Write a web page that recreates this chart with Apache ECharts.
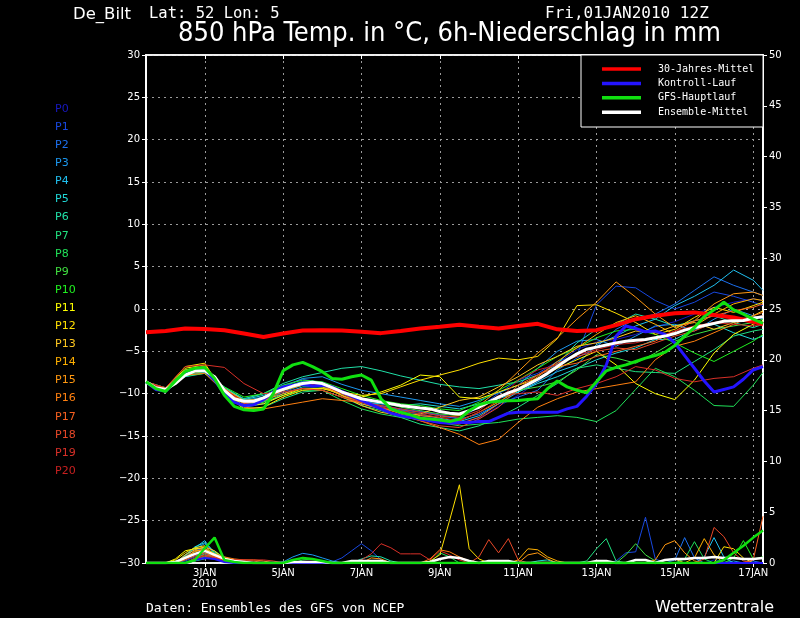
<!DOCTYPE html>
<html><head><meta charset="utf-8">
<script src="https://cdn.jsdelivr.net/npm/echarts@6/dist/echarts.min.js"></script>
<style>html,body{margin:0;padding:0;background:#000;}#c{width:800px;height:618px;}</style>
</head><body><div id="c"></div>
<script>
const FONT_N = "'Liberation Sans Narrow','DejaVu Sans Condensed','DejaVu Sans',sans-serif";
const FONT = "'DejaVu Sans',sans-serif";
const FONT_M = "'DejaVu Sans Mono',monospace";

// time categories: 6-hourly from 01JAN2010 12Z
const categories = [];
for (let i = 0; i < 64; i++) {
  const h = 12 + 6 * i, d = 1 + Math.floor(h / 24), hh = h % 24;
  categories.push(String(d).padStart(2, '0') + 'JAN ' + String(hh).padStart(2, '0') + 'Z');
}
const tickCats = ['03JAN 00Z','05JAN 00Z','07JAN 00Z','09JAN 00Z','11JAN 00Z','13JAN 00Z','15JAN 00Z','17JAN 00Z'];
const tickLabels = ['3JAN\n2010','5JAN','7JAN','9JAN','11JAN','13JAN','15JAN','17JAN'];
// 12-hourly reading positions (category index)
const idx12 = [0,2,4,6,8,10,12,14,16,18,20,22,24,26,28,30,32,34,36,38,40,42,44,46,48,50,52,54,56,58,60,62,63];

const memberNames = ['P0','P1','P2','P3','P4','P5','P6','P7','P8','P9','P10','P11','P12','P13','P14','P15','P16','P17','P18','P19','P20'];
const memberColors = ['#1818c0','#1848e0','#1c70f0','#1c98f0','#20c0f0','#20d8d8','#20e0a8','#20e080','#20e058','#40e040','#20f020','#ffff00','#ffe000','#ffc820','#ffb000','#ff9810','#ff8010','#f86020','#e84828','#d83028','#c82020'];

// 850 hPa temperature of ensemble members (12-hourly)
const tP0 = [-8.6,-9.6,-7.4,-7.0,-9.9,-11.4,-10.8,-9.4,-8.5,-8.6,-9.6,-10.5,-11.2,-11.9,-12.6,-13.0,-13.4,-12.9,-11.5,-10.2,-8.6,-6.4,-4.8,-3.9,-3.6,-3.0,-2.1,-1.5,-0.6,0.2,0.8,1.2,1.0];
const tP1 = [-8.6,-9.4,-7.3,-7.2,-9.4,-10.6,-10.0,-9.0,-8.3,-8.7,-9.9,-10.9,-11.5,-11.8,-12.1,-12.5,-12.9,-11.6,-10.0,-8.4,-7.6,-6.2,-5.5,0.5,2.7,2.5,1.0,0.0,0.8,2.0,1.5,0.8,0.4];
const tP2 = [-8.6,-9.5,-7.6,-7.1,-9.5,-11.1,-10.9,-9.8,-9.0,-9.0,-9.9,-10.8,-11.4,-11.9,-12.2,-12.6,-13.0,-12.4,-11.2,-10.4,-9.6,-7.2,-5.8,-4.5,-2.4,-1.2,-0.6,0.6,2.2,3.8,2.8,2.0,1.6];
const tP3 = [-8.6,-9.3,-7.8,-7.5,-9.2,-10.8,-10.4,-9.2,-8.2,-8.0,-8.9,-9.6,-10.0,-10.4,-10.8,-11.2,-11.5,-10.8,-9.9,-9.0,-7.0,-5.0,-3.8,-3.6,-4.4,-3.2,-2.0,-1.8,-2.6,-1.2,0.0,-0.8,-1.2];
const tP4 = [-8.6,-9.7,-7.5,-7.0,-9.7,-11.6,-11.2,-10.0,-9.2,-9.2,-10.2,-11.2,-11.8,-12.0,-12.4,-12.9,-13.3,-12.6,-11.2,-9.8,-8.6,-7.4,-6.6,-4.2,-3.2,-2.0,-1.2,0.4,1.5,2.8,4.6,3.4,2.2];
const tP5 = [-8.6,-9.5,-8.0,-7.6,-9.4,-10.7,-10.2,-9.2,-8.6,-8.9,-10.0,-11.0,-11.2,-11.4,-11.2,-11.5,-11.8,-11.2,-10.6,-9.8,-8.8,-8.0,-7.0,-6.0,-5.2,-4.6,-3.6,-3.6,-2.4,-1.8,-2.8,-3.6,-3.2];
const tP6 = [-8.6,-9.6,-7.8,-7.3,-9.3,-10.6,-10.0,-8.8,-8.0,-7.5,-7.0,-6.8,-7.3,-7.9,-8.4,-8.9,-9.2,-9.4,-9.0,-8.6,-7.8,-6.5,-4.0,-2.4,-1.8,-0.6,-1.2,-2.0,-1.4,-0.8,-1.6,-2.2,-1.8];
const tP7 = [-8.6,-9.4,-7.2,-6.8,-9.8,-11.8,-11.6,-10.6,-9.8,-9.6,-10.4,-11.4,-12.0,-12.8,-13.6,-14.0,-14.4,-13.8,-12.8,-11.6,-10.2,-8.8,-7.0,-6.6,-7.0,-7.4,-7.5,-7.6,-6.2,-4.8,-3.2,-2.6,-2.4];
const tP8 = [-8.6,-9.8,-7.6,-7.0,-9.6,-11.2,-11.0,-10.2,-9.6,-9.6,-10.8,-11.8,-12.4,-12.8,-13.0,-13.4,-13.8,-13.6,-13.4,-13.0,-12.8,-12.6,-12.8,-13.3,-12.0,-9.5,-7.0,-8.0,-9.6,-11.4,-11.5,-9.0,-7.5];
const tP9 = [-8.6,-9.5,-7.7,-7.4,-9.9,-11.4,-11.0,-9.6,-9.0,-9.2,-10.0,-10.6,-11.0,-11.6,-12.0,-12.4,-12.6,-11.6,-10.4,-9.6,-9.2,-8.6,-7.2,-5.4,-5.8,-6.4,-5.2,-3.8,-3.0,-2.4,-2.0,-1.6,-1.2];
const tP10 = [-8.6,-9.3,-7.9,-7.6,-9.2,-10.4,-10.0,-9.0,-8.4,-8.6,-9.4,-10.2,-10.8,-11.2,-11.4,-11.8,-12.0,-11.0,-9.6,-8.4,-7.0,-5.6,-4.6,-3.4,-2.6,-2.4,-3.0,-4.0,-5.2,-6.2,-5.0,-3.8,-3.0];
const tP11 = [-8.6,-9.6,-7.0,-6.6,-9.8,-11.4,-11.2,-10.2,-9.4,-9.4,-10.0,-10.4,-9.8,-9.0,-7.8,-8.0,-10.4,-10.6,-9.8,-9.0,-8.2,-7.0,-6.0,-5.0,-6.6,-8.8,-10.0,-10.7,-8.4,-5.2,-3.0,-1.8,-1.4];
const tP12 = [-8.6,-9.4,-6.8,-6.4,-10.0,-11.8,-11.6,-10.4,-9.6,-9.4,-9.8,-10.2,-10.0,-9.2,-8.4,-7.8,-7.2,-6.4,-5.8,-6.0,-5.6,-3.5,0.4,0.5,-0.5,-1.6,-3.0,-2.4,-1.0,0.2,-0.4,0.4,0.8];
const tP13 = [-8.6,-9.6,-7.2,-6.8,-9.6,-11.2,-10.8,-9.4,-8.8,-9.0,-10.2,-11.4,-12.2,-12.6,-12.4,-11.6,-10.8,-10.4,-9.2,-8.0,-6.6,-5.6,-4.4,-4.0,-3.4,-2.6,-2.8,-2.0,-1.6,-2.4,-1.6,-0.8,-0.2];
const tP14 = [-8.6,-9.5,-7.4,-7.0,-9.4,-10.8,-10.6,-9.6,-9.0,-9.2,-10.2,-11.0,-11.6,-12.2,-12.8,-13.2,-13.2,-12.2,-11.0,-9.6,-8.0,-6.2,-4.6,-3.0,-1.6,-0.8,-1.8,-3.0,-2.0,-0.6,0.6,1.2,1.0];
const tP15 = [-8.6,-9.6,-7.5,-7.2,-9.6,-11.0,-10.8,-10.0,-9.4,-9.6,-10.4,-11.2,-11.8,-12.2,-12.6,-12.8,-12.6,-11.4,-9.6,-7.4,-5.2,-3.4,-1.2,0.8,3.2,1.4,-0.6,-2.2,-1.4,0.6,1.8,2.0,1.6];
const tP16 = [-8.6,-9.4,-7.8,-7.6,-9.8,-11.6,-11.8,-11.4,-11.0,-10.6,-10.8,-11.0,-11.6,-12.4,-13.2,-14.0,-14.8,-16.0,-15.4,-13.4,-11.6,-10.6,-9.8,-9.4,-9.0,-8.6,-6.0,-4.4,-3.8,-2.8,-1.8,-0.8,-0.4];
const tP17 = [-8.6,-9.5,-7.3,-6.9,-9.4,-11.0,-10.6,-9.4,-8.7,-8.8,-9.8,-10.8,-11.6,-12.2,-12.8,-13.4,-13.6,-12.8,-11.2,-9.0,-7.8,-6.8,-6.4,-5.6,-5.0,-4.4,-3.8,-2.6,-1.4,-0.8,-0.2,0.2,0.6];
const tP18 = [-8.6,-9.6,-7.6,-7.3,-9.6,-11.2,-10.8,-9.6,-8.8,-8.9,-10.0,-11.0,-11.8,-12.6,-13.2,-13.8,-14.0,-13.0,-11.6,-9.4,-7.8,-6.4,-5.6,-5.0,-4.6,-4.8,-4.0,-3.2,-2.6,-1.6,-1.2,-1.0,-0.8];
const tP19 = [-8.6,-9.3,-6.8,-6.6,-6.9,-8.8,-10.0,-9.8,-9.4,-9.6,-10.4,-11.0,-11.4,-11.8,-12.2,-12.6,-12.8,-12.0,-10.2,-10.0,-9.8,-10.2,-9.4,-8.8,-8.0,-6.8,-7.2,-8.2,-8.6,-8.2,-8.0,-7.0,-6.6];
const tP20 = [-8.6,-9.5,-7.5,-7.1,-9.5,-11.0,-10.6,-9.5,-8.8,-9.0,-10.0,-10.9,-11.6,-12.0,-12.4,-12.8,-13.2,-12.2,-10.8,-8.4,-7.2,-6.6,-5.4,-4.8,-4.2,-4.0,-3.4,-2.6,-2.0,-1.6,-1.8,-2.0,-1.8];

// 6h precipitation of ensemble members (6-hourly, mm)
const rP0 = [0,0,0,0,.3,.8,1,.6, .2,0,0,0,0,0,0,0, 0,0,0,0,0,0,0,0, 0,0,0,0,0,0,0,0, 0,0,0,0,0,0,0,0, 0,0,0,0,0,0,0,0, 0,0,0,0,0,0,0,0, 0,0,.3,.2,0,0,0,0];
const rP1 = [0,0,0,0,.2,.6,.9,.5, .3,.1,0,0,0,0,0,0, 0,0,0,.1,.5,1.2,1.9,1.2, .3,0,0,0,0,0,0,0, 0,0,0,0,0,0,0,0, 0,0,0,0,0,0,0,0, .2,1,1.1,4.5,.4,0,0,0, 0,0,0,0,0,0,0,0];
const rP2 = [0,0,0,0,.5,1.2,1.5,.8, .3,0,0,0,0,0,0,0, 0,0,0,0,0,0,0,0, 0,0,0,0,0,0,0,0, 0,0,0,0,0,0,0,0, 0,0,0,0,0,0,0,0, 0,0,0,0,0,0,.3,2.5, .5,0,0,0,0,0,.2,0];
const rP3 = [0,0,0,0,.6,1.4,1.9,1, .4,.3,.2,0,0,0,.1,.6, .95,.8,.5,.2,0,0,0,0, 0,0,0,0,0,0,0,0, 0,0,0,0,0,0,0,0, 0,0,0,0,0,0,0,0, 0,0,0,0,0,0,0,0, 0,0,0,0,.2,0,0,0];
const rP4 = [0,0,0,0,.8,1.5,2.2,.9, .4,0,0,0,0,0,0,0, 0,0,0,0,0,0,0,0, 0,0,0,0,0,0,0,0, 0,0,0,0,0,0,0,0, 0,0,0,0,0,0,0,0, 0,0,0,0,0,0,0,0, 0,.6,2.5,.6,0,0,0,0];
const rP5 = [0,0,0,0,.7,1.6,2,1.1, .5,.2,0,0,0,0,0,0, 0,0,0,0,0,0,0,0, 0,0,0,0,0,0,0,0, 0,0,0,0,0,0,0,0, .2,.3,0,0,0,0,0,0, 0,0,0,0,0,0,0,0, 0,0,0,0,0,0,0,0];
const rP6 = [0,0,0,0,0,.3,.6,.9, .4,.2,0,0,0,0,0,0, 0,0,0,0,0,0,.4,.7, .6,.2,0,0,0,0,0,0, 0,0,0,0,0,0,0,0, 0,0,0,0,0,0,0,0, 0,0,0,0,0,0,0,0, 0,0,0,0,0,0,0,0];
const rP7 = [0,0,0,0,0,.2,.4,.8, .3,0,0,0,0,0,0,0, 0,0,0,0,0,0,0,0, 0,0,0,0,0,0,0,0, 0,0,0,0,0,0,0,0, 0,0,0,0,0,.2,1.4,2.4, .2,0,0,0,0,0,0,0, 0,0,0,0,0,0,0,0];
const rP8 = [0,0,0,0,0,.4,.9,1.2, .5,0,0,0,0,0,0,0, .3,.4,.2,0,0,0,0,0, 0,0,0,0,0,0,1,.6, 0,0,0,0,0,0,0,0, 0,0,0,0,0,0,0,0, 0,0,0,0,0,0,0,.4, 2.1,.4,0,0,0,0,0,0];
const rP9 = [0,0,0,0,0,.3,.7,1, .6,.2,0,0,0,0,0,0, 0,0,0,0,0,0,0,0, 0,0,0,0,0,0,0,0, 0,0,0,0,0,0,0,0, 0,0,0,0,0,0,0,0, 0,.8,1.9,.8,.2,0,0,0, 0,0,0,0,0,0,0,0];
const rP10 = [0,0,0,0,0,.2,.5,.7, .3,0,0,0,0,0,0,0, 0,0,0,0,0,0,0,0, 0,0,0,0,0,0,0,0, 0,0,0,0,0,0,0,0, 0,0,0,0,0,0,0,0, 0,0,0,0,0,0,0,0, 0,0,0,0,.5,2.2,.4,.6];
const rP11 = [0,0,0,.4,1.2,1.4,1.5,.6, .2,0,0,0,0,0,0,0, 0,0,0,0,0,0,0,0, 0,0,0,0,0,0,0,0, 0,0,0,0,0,0,0,0, 0,0,0,0,0,0,0,0, 0,0,0,0,0,0,0,0, 0,0,0,0,0,0,0,0];
const rP12 = [0,0,0,.3,1,1.5,1.7,.8, .3,0,0,0,0,0,0,0, 0,0,0,0,0,0,0,0, 0,0,0,0,0,.2,.8,4.2, 7.7,1.4,.4,0,0,0,0,0, 0,0,0,0,0,0,0,0, 0,0,0,0,0,0,0,0, 0,0,0,1.6,1.4,.5,0,0];
const rP13 = [0,0,0,0,.8,1.3,1.6,1.2, .4,0,0,0,0,0,0,0, 0,0,0,0,0,0,0,0, 0,0,0,0,0,0,0,0, 0,0,0,0,0,0,0,0, 0,0,0,0,0,0,0,0, 0,0,0,0,0,.3,.4,0, 0,0,0,0,0,0,0,0];
const rP14 = [0,0,0,0,.6,1.1,1.4,.9, .5,.3,0,0,0,0,0,0, 0,0,0,0,0,0,0,0, 0,0,0,0,0,0,0,0, 0,0,0,0,0,0,.3,1.4, 1.3,.6,.2,0,0,0,0,0, 0,0,0,0,0,0,0,0, .5,2.4,.8,0,0,0,0,0];
const rP15 = [0,0,0,0,.5,1.2,1.3,.7, .2,0,0,0,0,0,0,0, 0,0,0,0,0,0,0,.5, .4,0,0,0,0,0,0,0, 0,0,0,0,0,0,0,.8, 1,.4,0,0,0,0,0,0, 0,0,0,0,.3,1.8,2.2,1, .2,0,0,0,0,0,0,0];
const rP16 = [0,0,0,0,.4,.9,1.2,.9, .6,.4,.3,.3,.2,0,0,0, 0,0,0,0,0,0,0,0, 0,0,0,0,0,.4,1.3,1.1, .6,.2,0,0,0,0,0,0, 0,0,0,0,0,0,0,0, 0,0,0,0,0,0,0,0, 0,0,0,0,0,0,0,0];
const rP17 = [0,0,0,0,.3,.7,1,.6, .4,.3,0,0,0,0,0,0, 0,0,0,0,0,0,0,0, 0,0,0,0,0,0,0,0, 0,0,0,0,0,0,0,0, 0,0,0,0,0,0,0,0, 0,0,0,0,0,0,0,0, 0,0,0,0,0,0,.3,4.6];
const rP18 = [0,0,0,0,0,.5,.8,.6, .3,.3,.3,.2,0,0,0,0, 0,0,0,0,0,0,0,0, 0,0,0,0,0,0,0,0, 0,0,.6,2.3,1,2.4,.3,0, 0,0,0,0,0,0,0,0, 0,0,0,0,0,0,0,0, 0,.4,3.5,2.6,1,.2,0,0];
const rP19 = [0,0,0,0,0,.4,.7,.5, .3,.3,.3,.3,.3,.2,0,0, 0,0,0,0,0,0,.3,.9, 1.9,1.5,.9,.9,.9,.3,1.2,.8, .3,0,0,0,0,0,0,0, 0,0,0,0,0,0,0,0, 0,0,0,0,0,0,0,0, 0,0,0,0,0,0,0,0];
const rP20 = [0,0,0,0,0,.3,.5,.4, .2,0,0,0,0,0,0,0, 0,0,0,0,0,0,0,0, 0,0,0,0,0,0,0,0, 0,0,0,0,0,0,0,0, 0,0,0,0,0,0,0,.2, 0,0,0,0,0,0,0,0, 0,0,0,0,0,0,0,0];

// special runs (6-hourly)
const tMean = [-8.6,-9.3,-9.5,-8.8,-7.8,-7.3,-7.3,-8.0, -9.6,-10.6,-10.9,-10.9,-10.5,-9.9,-9.5,-9.1, -8.8,-8.65,-8.8,-9.3,-9.8,-10.2,-10.6,-10.8, -11.0,-11.2,-11.4,-11.55,-11.7,-11.8,-12.1,-12.3, -12.4,-12.0,-11.6,-11.0,-10.4,-9.9,-9.5,-8.9, -8.3,-7.6,-6.8,-6.0,-5.3,-4.75,-4.5,-4.25, -4.0,-3.8,-3.7,-3.6,-3.4,-3.2,-2.9,-2.5, -2.2,-1.95,-1.7,-1.45,-1.4,-1.35,-1.1,-0.9];
const tControl = [-8.6,-9.5,-9.7,-8.6,-7.5,-7.1,-7.2,-8.4, -10.0,-11.0,-11.4,-11.3,-10.7,-9.8,-9.2,-9.0, -8.9,-9.1,-9.0,-9.2,-9.8,-10.3,-10.8,-11.3, -11.8,-12.3,-12.6,-12.8,-13.0,-13.2,-13.4,-13.5, -13.4,-13.4,-13.3,-13.3,-12.8,-12.3,-12.2,-12.2, -12.2,-12.2,-12.2,-11.8,-11.5,-10.3,-8.8,-6.6, -3.2,-2.0,-2.3,-2.7,-2.6,-3.0,-4.0,-5.5, -7.0,-8.5,-9.8,-9.5,-9.2,-8.3,-7.2,-6.8];
const tGFS = [-8.6,-9.4,-9.75,-8.5,-7.4,-7.0,-6.9,-8.2, -10.2,-11.5,-11.9,-12.0,-11.8,-10.0,-7.3,-6.6, -6.3,-6.8,-7.4,-8.2,-8.3,-8.0,-7.8,-8.4, -10.6,-11.8,-12.2,-12.5,-12.9,-13.0,-13.1,-13.3, -13.0,-12.0,-11.3,-11.0,-10.9,-10.85,-10.8,-10.7, -10.6,-9.4,-8.5,-9.2,-9.6,-9.9,-8.6,-7.3, -6.9,-6.6,-6.2,-5.8,-5.5,-5.1,-4.3,-3.2, -2.2,-0.9,-0.1,0.8,-0.1,-0.6,-1.2,-1.7];
const rMean = [0,0,0,.1,.5,.9,1.2,.8, .4,.2,.1,0,0,0,0,.1, .1,.1,.1,0,0,.2,.2,.2, .2,0,0,0,0,.1,.4,.6, .5,.2,0,.2,.2,.2,0,0, 0,0,0,0,0,0,.2,.2, 0,0,.3,.3,0,.3,.4,.4, .5,.5,.6,.5,.5,.4,.4,.5];
const rControl = [0,0,0,0,0,.3,.5,.4, .1,0,0,0,0,0,0,0, 0,0,0,0,0,0,0,0, 0,0,0,0,0,0,0,0, 0,0,0,0,0,0,0,0, 0,0,0,0,0,0,0,0, 0,0,0,0,0,0,0,0, 0,0,0,0,0,0,0,0];
const rGFS = [0,0,0,0,0,.3,1.45,2.5, .3,.1,0,0,0,0,0,.3, .5,.4,.2,0,0,0,0,0, 0,0,0,0,0,0,0,0, 0,0,0,0,0,0,0,0, 0,0,0,0,0,0,0,0, 0,0,0,0,0,0,0,0, 0,0,0,.3,1,1.7,2.5,3.2];
// 30-year climatology (12-hourly)
const tClim = [-2.75,-2.6,-2.3,-2.35,-2.5,-2.9,-3.3,-2.9,-2.55,-2.5,-2.55,-2.7,-2.85,-2.6,-2.3,-2.1,-1.85,-2.1,-2.3,-2.0,-1.75,-2.4,-2.6,-2.5,-1.9,-1.2,-0.8,-0.5,-0.4,-0.7,-1.0,-1.5,-1.8];

const yTempTicks = {min: -30, max: 30, interval: 5};
const yPrecTicks = {min: 0, max: 50, interval: 5};

const tempMembers = [tP0,tP1,tP2,tP3,tP4,tP5,tP6,tP7,tP8,tP9,tP10,tP11,tP12,tP13,tP14,tP15,tP16,tP17,tP18,tP19,tP20];
const precMembers = [rP0,rP1,rP2,rP3,rP4,rP5,rP6,rP7,rP8,rP9,rP10,rP11,rP12,rP13,rP14,rP15,rP16,rP17,rP18,rP19,rP20];

const pair12 = arr => arr.map((v, j) => [idx12[j], v]);
const base = {type: 'line', symbol: 'none', silent: true, animation: false, xAxisIndex: 0};
const series = [];
memberNames.forEach((n, k) => {
  const c = memberColors[k];
  series.push(Object.assign({}, base, {name: n, yAxisIndex: 1, data: precMembers[k], lineStyle: {width: 1, color: c}, itemStyle: {color: c}}));
  series.push(Object.assign({}, base, {name: n, yAxisIndex: 0, data: pair12(tempMembers[k]), lineStyle: {width: 1, color: c}, itemStyle: {color: c}}));
});
const CLIM = '30-Jahres-Mittel', CTRL = 'Kontroll-Lauf', GFS = 'GFS-Hauptlauf', MEAN = 'Ensemble-Mittel';
series.push(Object.assign({}, base, {name: CLIM, yAxisIndex: 0, data: pair12(tClim), lineStyle: {width: 4, color: '#ff0000'}, itemStyle: {color: '#ff0000'}}));
series.push(Object.assign({}, base, {name: CTRL, yAxisIndex: 1, data: rControl, lineStyle: {width: 2, color: '#2414ff'}, itemStyle: {color: '#2414ff'}}));
series.push(Object.assign({}, base, {name: MEAN, yAxisIndex: 1, data: rMean, lineStyle: {width: 2.5, color: '#ffffff'}, itemStyle: {color: '#ffffff'}}));
series.push(Object.assign({}, base, {name: GFS, yAxisIndex: 1, data: rGFS, lineStyle: {width: 2.5, color: '#10e010'}, itemStyle: {color: '#10e010'}}));
series.push(Object.assign({}, base, {name: CTRL, yAxisIndex: 0, data: tControl, lineStyle: {width: 3, color: '#2414ff'}, itemStyle: {color: '#2414ff'}}));
series.push(Object.assign({}, base, {name: MEAN, yAxisIndex: 0, data: tMean, lineStyle: {width: 3, color: '#ffffff'}, itemStyle: {color: '#ffffff'}}));
series.push(Object.assign({}, base, {name: GFS, yAxisIndex: 0, data: tGFS, lineStyle: {width: 3, color: '#10e010'}, itemStyle: {color: '#10e010'}}));

const gridLine = {show: true, lineStyle: {color: '#9a9a9a', type: [2, 4], width: 1}};
const lbl = {color: '#fff', fontSize: 10, fontFamily: FONT};
const minus = v => String(v).replace('-', '\u2212');
const showTick = (i, v) => tickCats.indexOf(v) >= 0;
const ttl = (text, left, top, size, font) => ({text, left, top, padding: 0, textStyle: {color: '#fff', fontSize: size, fontWeight: 'normal', fontFamily: font}});

const chart = echarts.init(document.getElementById('c'), null, {renderer: 'canvas'});
chart.setOption({
  backgroundColor: '#000',
  animation: false,
  title: [
    ttl('De_Bilt', 73, 6, 16.5, FONT),
    ttl('Lat: 52 Lon: 5', 149, 6, 15.5, FONT_M),
    ttl('Fri,01JAN2010 12Z', 545, 6, 16, FONT_M),
    ttl('850 hPa Temp. in \u00b0C, 6h-Niederschlag in mm', 178, 20, 27, FONT_N),
    ttl('Daten: Ensembles des GFS von NCEP', 146, 602, 13, FONT_M),
    ttl('Wetterzentrale', 655, 600, 16, FONT)
  ],
  legend: [
    {
      orient: 'vertical', left: 49, top: 103, padding: 0, itemWidth: 1, itemHeight: 12, itemGap: 6.1,
      selectedMode: false, icon: 'rect', itemStyle: {opacity: 0},
      textStyle: {fontSize: 11, lineHeight: 12, fontFamily: FONT, padding: [0, 0, 0, 0]},
      data: memberNames.map((n, k) => ({name: n, textStyle: {color: memberColors[k]}}))
    },
    {
      orient: 'vertical', left: 602, top: 63, padding: 0, itemWidth: 39, itemHeight: 3.5, itemGap: 2.4,
      selectedMode: false, icon: 'rect', z: 10,
      textStyle: {color: '#fff', fontSize: 10, lineHeight: 12, fontFamily: FONT_M, padding: [0, 0, 0, 12]},
      data: [CLIM, CTRL, GFS, MEAN]
    }
  ],
  graphic: [
    {type: 'rect', z: 5, shape: {x: 581, y: 55, width: 182, height: 72}, style: {fill: '#000', stroke: '#fff', lineWidth: 1}}
  ],
  grid: {left: 146, right: 37, top: 55, bottom: 55, show: true, borderColor: '#fff', borderWidth: 1.5, backgroundColor: 'transparent'},
  xAxis: [
    {
      type: 'category', data: categories, boundaryGap: false, position: 'bottom',
      axisLine: {onZero: false, lineStyle: {color: '#fff', width: 1.5}},
      axisTick: {show: true, interval: showTick, length: 4, lineStyle: {color: '#fff'}},
      axisLabel: Object.assign({}, lbl, {interval: showTick, margin: 5, lineHeight: 11,
        formatter: v => tickLabels[tickCats.indexOf(v)]}),
      splitLine: Object.assign({}, gridLine, {interval: showTick})
    },
    {
      type: 'category', data: categories, boundaryGap: false, position: 'top',
      axisLine: {onZero: false, lineStyle: {color: '#fff', width: 1.5}},
      axisTick: {show: true, inside: true, interval: showTick, length: 4, lineStyle: {color: '#fff'}},
      axisLabel: {show: false},
      splitLine: {show: false}
    }
  ],
  yAxis: [
    Object.assign({type: 'value', position: 'left'}, yTempTicks, {
      axisLine: {show: true, onZero: false, lineStyle: {color: '#fff', width: 2}},
      axisTick: {show: true, length: 4, lineStyle: {color: '#fff'}},
      axisLabel: Object.assign({}, lbl, {margin: 6, formatter: minus}),
      splitLine: gridLine
    }),
    Object.assign({type: 'value', position: 'right'}, yPrecTicks, {
      axisLine: {show: true, onZero: false, lineStyle: {color: '#fff', width: 2}},
      axisTick: {show: true, length: 4, lineStyle: {color: '#fff'}},
      axisLabel: Object.assign({}, lbl, {margin: 6}),
      splitLine: {show: false}
    })
  ],
  series: series
});
</script></body></html>
